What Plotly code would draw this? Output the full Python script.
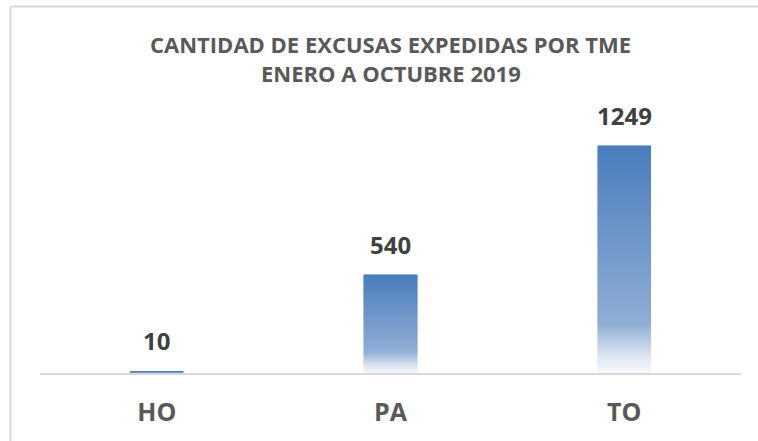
import plotly.graph_objects as go

# ---- data ----
categories = ["HO", "PA", "TO"]
values = [10, 540, 1249]
title_lines = ["CANTIDAD DE EXCUSAS EXPEDIDAS POR TME", "ENERO A OCTUBRE 2019"]

# ---- style ----
W, H = 758, 441
ML, MR, MT, MB = 40, 17, 100, 68
Y_MAX = 1500
N_SEG = 150
FONT = "Open Sans"
# gradient stops: fraction from bar bottom -> colour
grad_stops = [(0.0, (247, 249, 252)), (0.08, (219, 228, 241)),
              (0.22, (143, 173, 212)), (1.0, (74, 125, 189))]


def grad_color(t):
    for (t0, c0), (t1, c1) in zip(grad_stops[:-1], grad_stops[1:]):
        if t <= t1:
            f = (t - t0) / (t1 - t0)
            c = [round(a + (b - a) * f) for a, b in zip(c0, c1)]
            return "rgb(%d,%d,%d)" % tuple(c)
    return "rgb(%d,%d,%d)" % grad_stops[-1][1]


fig = go.Figure()
for k in range(N_SEG):
    col = grad_color((k + 0.5) / N_SEG)
    fig.add_trace(go.Bar(
        x=categories,
        y=[v / N_SEG for v in values],
        marker=dict(color=col, line=dict(color=col, width=0.6)),
        hoverinfo="skip",
        showlegend=False,
    ))

# value labels
for c, v in zip(categories, values):
    fig.add_annotation(x=c, y=v, text="<b>%d</b>" % v, showarrow=False,
                       yanchor="bottom", yshift=12,
                       font=dict(family=FONT, size=24, color="#404040"))

plot_h = H - MT - MB
plot_w = W - ML - MR


def py(px):  # pixel y -> paper y
    return (H - MB - px) / plot_h


def pxx(px):  # pixel x -> paper x
    return (px - ML) / plot_w


# title lines
for line, cy in zip(title_lines, [44, 73]):
    fig.add_annotation(x=0.5, xref="paper", y=py(cy), yref="paper",
                       text="<b>%s</b>" % line, showarrow=False,
                       xanchor="center", yanchor="middle",
                       font=dict(family=FONT, size=22, color="#595959"))

# chart area border (top and left visible)
fig.add_shape(type="line", xref="paper", yref="paper",
              x0=pxx(10.5), x1=pxx(W + 5), y0=py(6.5), y1=py(6.5),
              line=dict(color="#d9d9d9", width=2))
fig.add_shape(type="line", xref="paper", yref="paper",
              x0=pxx(10.5), x1=pxx(10.5), y0=py(6.5), y1=py(H + 5),
              line=dict(color="#d9d9d9", width=2))

fig.update_layout(
    width=W, height=H,
    margin=dict(l=ML, r=MR, t=MT, b=MB),
    barmode="stack",
    bargap=0.773,
    plot_bgcolor="white",
    paper_bgcolor="white",
    showlegend=False,
    font=dict(family=FONT),
    xaxis=dict(showline=True, linecolor="#d9d9d9", linewidth=2,
               ticks="", showgrid=False, zeroline=False,
               ticklabelstandoff=16,
               tickfont=dict(family=FONT, size=25, color="#595959", weight="bold")),
    yaxis=dict(range=[0, Y_MAX], visible=False, showgrid=False, zeroline=False),
)

fig.write_html("out.html",
               config={"displayModeBar": False, "staticPlot": False},
               post_script="document.body.style.margin='0';document.body.style.overflow='hidden';")
